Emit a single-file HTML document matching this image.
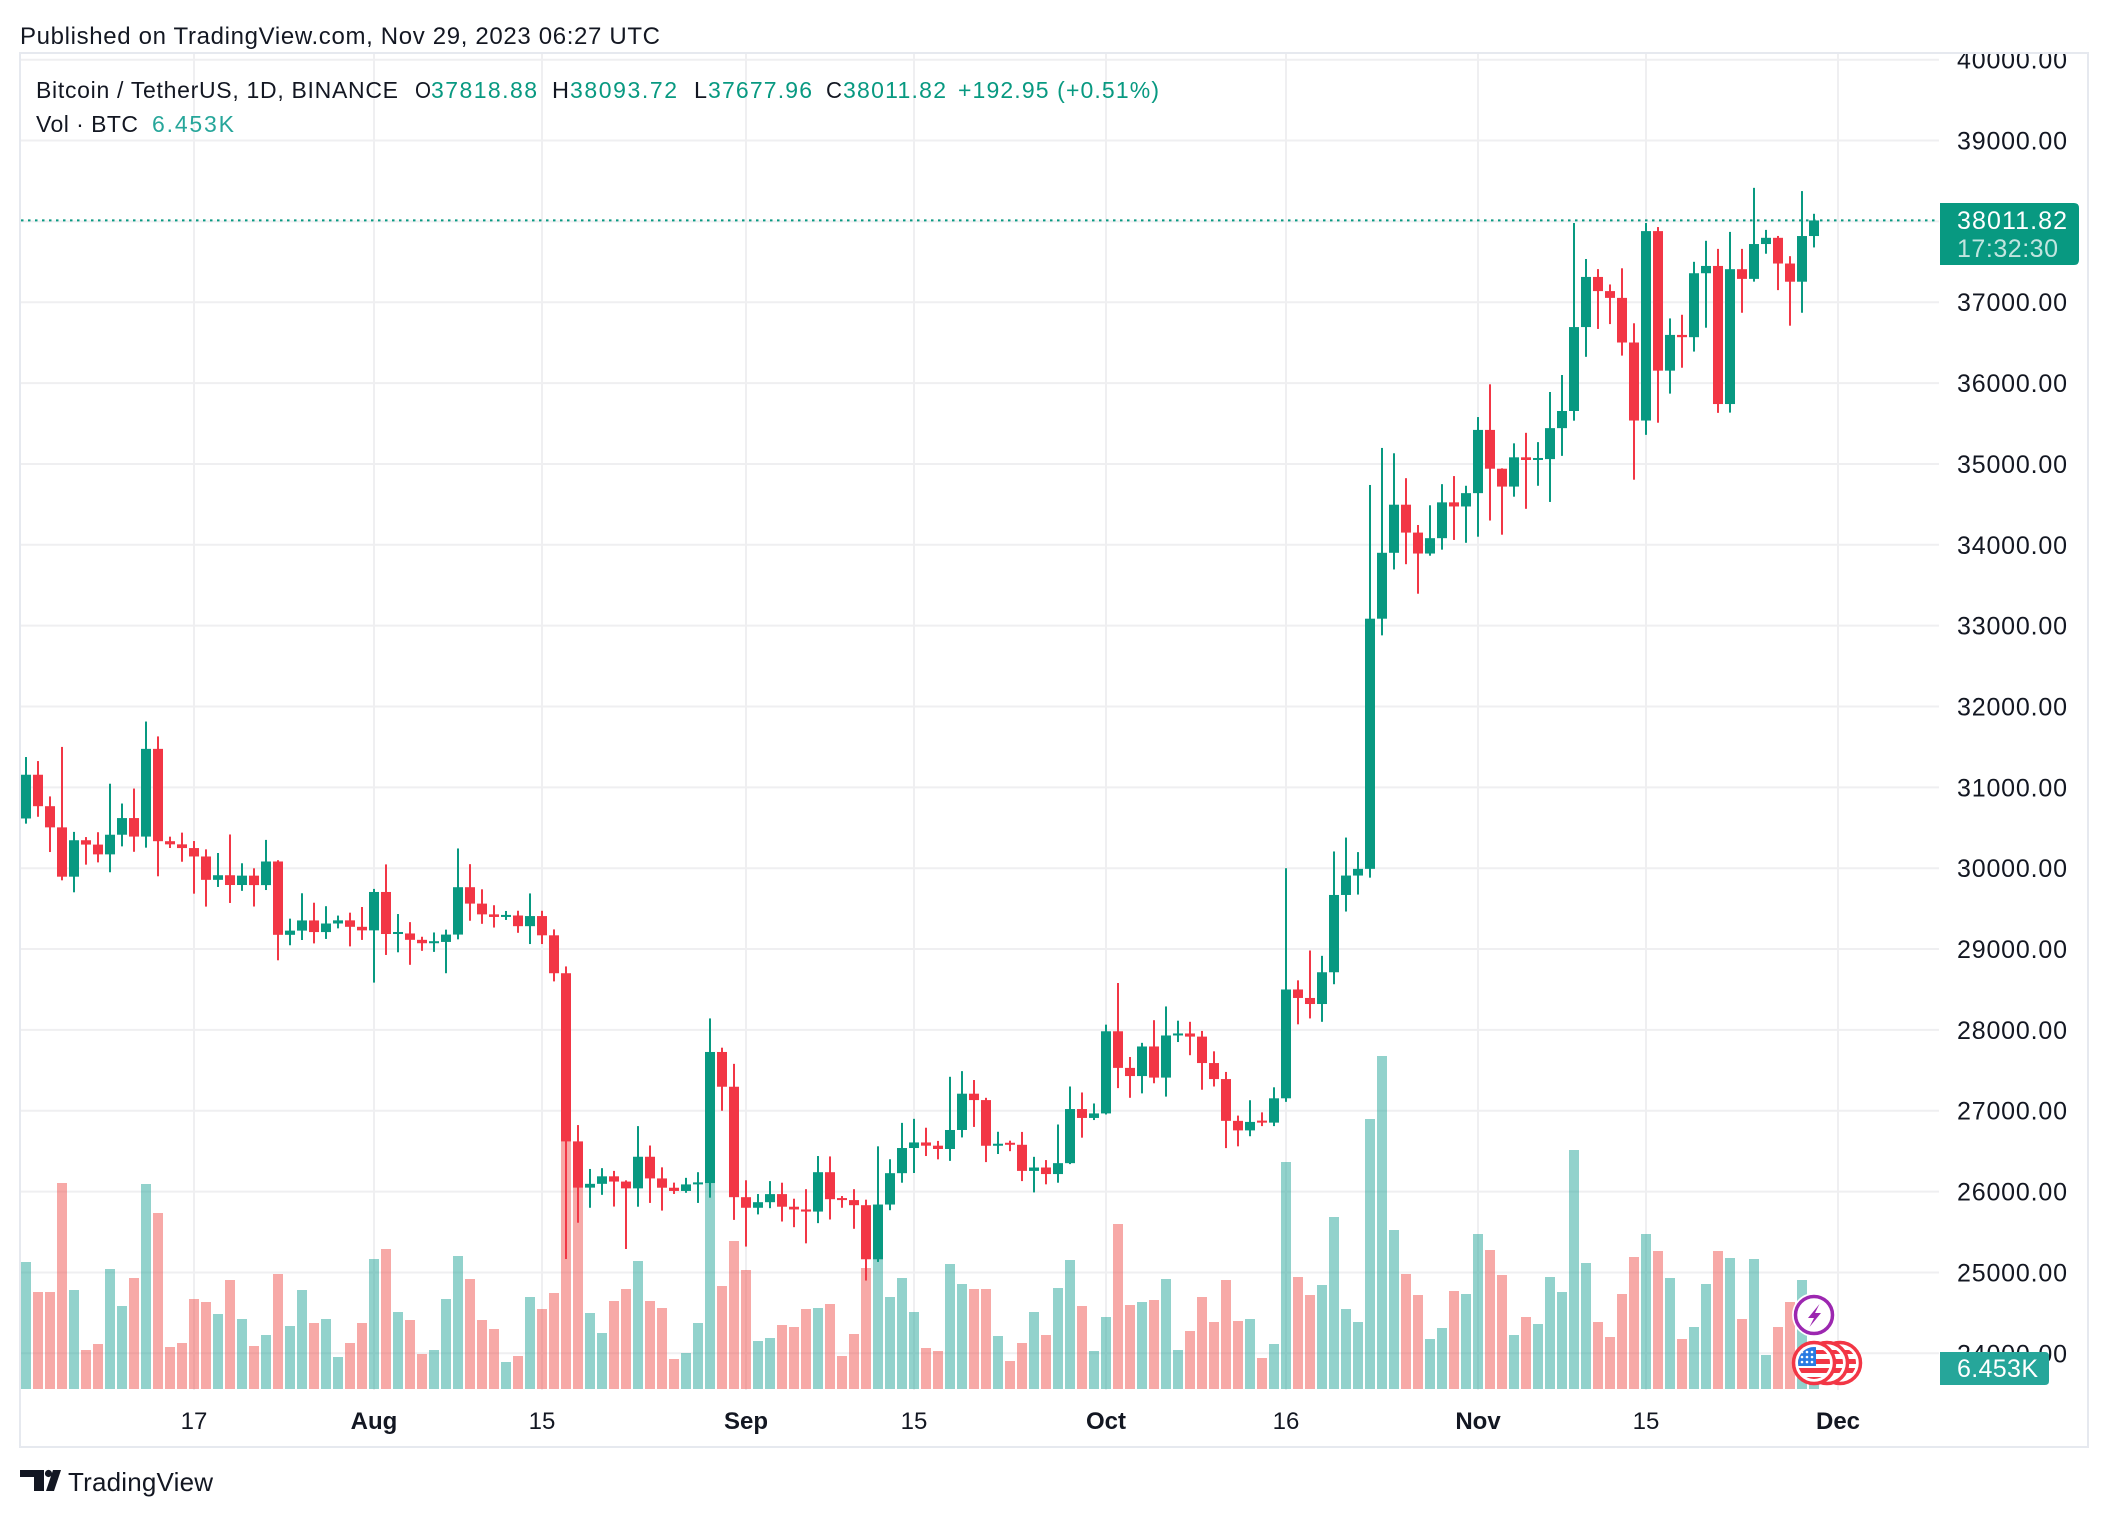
<!DOCTYPE html>
<html><head><meta charset="utf-8"><style>
html,body{margin:0;padding:0;background:#fff;}
svg{display:block;}
text{font-family:"Liberation Sans",Arial,sans-serif;}
</style></head><body>
<svg width="2108" height="1516" viewBox="0 0 2108 1516" xmlns="http://www.w3.org/2000/svg">
<defs>
<clipPath id="plot"><rect x="21" y="54" width="1918" height="1336"/></clipPath>
<clipPath id="axis"><rect x="1940" y="54" width="147" height="1340"/></clipPath>
<clipPath id="flag"><circle cx="1814" cy="1363" r="16"/></clipPath>
<clipPath id="flag2"><circle cx="1827" cy="1363" r="16"/></clipPath>
<clipPath id="flag3"><circle cx="1840" cy="1363" r="16"/></clipPath>
</defs>
<rect width="2108" height="1516" fill="#fff"/>
<text x="20" y="44" font-size="24" fill="#131722" textLength="640" lengthAdjust="spacing">Published on TradingView.com, Nov 29, 2023 06:27 UTC</text>

<!-- frame -->
<rect x="20" y="53" width="2068" height="1394" fill="none" stroke="#e6e9ef" stroke-width="2"/>

<!-- grid -->
<g stroke="#efeff1" stroke-width="2">
<line x1="21" x2="1939" y1="59.7" y2="59.7"/>
<line x1="21" x2="1939" y1="140.55" y2="140.55"/>
<line x1="21" x2="1939" y1="221.4" y2="221.4"/>
<line x1="21" x2="1939" y1="302.25" y2="302.25"/>
<line x1="21" x2="1939" y1="383.1" y2="383.1"/>
<line x1="21" x2="1939" y1="463.95" y2="463.95"/>
<line x1="21" x2="1939" y1="544.8" y2="544.8"/>
<line x1="21" x2="1939" y1="625.65" y2="625.65"/>
<line x1="21" x2="1939" y1="706.5" y2="706.5"/>
<line x1="21" x2="1939" y1="787.35" y2="787.35"/>
<line x1="21" x2="1939" y1="868.2" y2="868.2"/>
<line x1="21" x2="1939" y1="949.05" y2="949.05"/>
<line x1="21" x2="1939" y1="1029.9" y2="1029.9"/>
<line x1="21" x2="1939" y1="1110.75" y2="1110.75"/>
<line x1="21" x2="1939" y1="1191.6" y2="1191.6"/>
<line x1="21" x2="1939" y1="1272.45" y2="1272.45"/>
<line x1="21" x2="1939" y1="1353.3" y2="1353.3"/>
<line x1="194" x2="194" y1="54" y2="1390"/>
<line x1="374" x2="374" y1="54" y2="1390"/>
<line x1="542" x2="542" y1="54" y2="1390"/>
<line x1="746" x2="746" y1="54" y2="1390"/>
<line x1="914" x2="914" y1="54" y2="1390"/>
<line x1="1106" x2="1106" y1="54" y2="1390"/>
<line x1="1286" x2="1286" y1="54" y2="1390"/>
<line x1="1478" x2="1478" y1="54" y2="1390"/>
<line x1="1646" x2="1646" y1="54" y2="1390"/>
<line x1="1838" x2="1838" y1="54" y2="1390"/>
</g>

<g clip-path="url(#plot)">
<!-- volume green -->
<g fill="rgba(38,166,154,0.5)">
<rect x="21" y="1262" width="10" height="127"/>
<rect x="69" y="1290" width="10" height="99"/>
<rect x="105" y="1269" width="10" height="120"/>
<rect x="117" y="1306" width="10" height="83"/>
<rect x="141" y="1184" width="10" height="205"/>
<rect x="213" y="1314" width="10" height="75"/>
<rect x="237" y="1319" width="10" height="70"/>
<rect x="261" y="1335" width="10" height="54"/>
<rect x="285" y="1326" width="10" height="63"/>
<rect x="297" y="1290" width="10" height="99"/>
<rect x="321" y="1319" width="10" height="70"/>
<rect x="333" y="1357" width="10" height="32"/>
<rect x="369" y="1259" width="10" height="130"/>
<rect x="393" y="1312" width="10" height="77"/>
<rect x="429" y="1350" width="10" height="39"/>
<rect x="441" y="1299" width="10" height="90"/>
<rect x="453" y="1256" width="10" height="133"/>
<rect x="501" y="1362" width="10" height="27"/>
<rect x="525" y="1297" width="10" height="92"/>
<rect x="585" y="1313" width="10" height="76"/>
<rect x="597" y="1333" width="10" height="56"/>
<rect x="633" y="1261" width="10" height="128"/>
<rect x="681" y="1353" width="10" height="36"/>
<rect x="693" y="1323" width="10" height="66"/>
<rect x="705" y="1149" width="10" height="240"/>
<rect x="753" y="1341" width="10" height="48"/>
<rect x="765" y="1338" width="10" height="51"/>
<rect x="813" y="1308" width="10" height="81"/>
<rect x="873" y="1249" width="10" height="140"/>
<rect x="885" y="1297" width="10" height="92"/>
<rect x="897" y="1278" width="10" height="111"/>
<rect x="909" y="1312" width="10" height="77"/>
<rect x="945" y="1264" width="10" height="125"/>
<rect x="957" y="1284" width="10" height="105"/>
<rect x="993" y="1336" width="10" height="53"/>
<rect x="1029" y="1312" width="10" height="77"/>
<rect x="1053" y="1288" width="10" height="101"/>
<rect x="1065" y="1260" width="10" height="129"/>
<rect x="1089" y="1351" width="10" height="38"/>
<rect x="1101" y="1317" width="10" height="72"/>
<rect x="1137" y="1302" width="10" height="87"/>
<rect x="1161" y="1279" width="10" height="110"/>
<rect x="1173" y="1350" width="10" height="39"/>
<rect x="1245" y="1319" width="10" height="70"/>
<rect x="1269" y="1344" width="10" height="45"/>
<rect x="1281" y="1162" width="10" height="227"/>
<rect x="1317" y="1285" width="10" height="104"/>
<rect x="1329" y="1217" width="10" height="172"/>
<rect x="1341" y="1309" width="10" height="80"/>
<rect x="1353" y="1322" width="10" height="67"/>
<rect x="1365" y="1119" width="10" height="270"/>
<rect x="1377" y="1056" width="10" height="333"/>
<rect x="1389" y="1230" width="10" height="159"/>
<rect x="1425" y="1339" width="10" height="50"/>
<rect x="1437" y="1328" width="10" height="61"/>
<rect x="1461" y="1294" width="10" height="95"/>
<rect x="1473" y="1234" width="10" height="155"/>
<rect x="1509" y="1335" width="10" height="54"/>
<rect x="1533" y="1324" width="10" height="65"/>
<rect x="1545" y="1277" width="10" height="112"/>
<rect x="1557" y="1292" width="10" height="97"/>
<rect x="1569" y="1150" width="10" height="239"/>
<rect x="1581" y="1263" width="10" height="126"/>
<rect x="1641" y="1234" width="10" height="155"/>
<rect x="1665" y="1278" width="10" height="111"/>
<rect x="1689" y="1327" width="10" height="62"/>
<rect x="1701" y="1284" width="10" height="105"/>
<rect x="1725" y="1258" width="10" height="131"/>
<rect x="1749" y="1259" width="10" height="130"/>
<rect x="1761" y="1355" width="10" height="34"/>
<rect x="1797" y="1280" width="10" height="109"/>
<rect x="1809" y="1368" width="10" height="21"/>
</g>
<!-- volume red -->
<g fill="rgba(239,83,80,0.5)">
<rect x="33" y="1292" width="10" height="97"/>
<rect x="45" y="1292" width="10" height="97"/>
<rect x="57" y="1183" width="10" height="206"/>
<rect x="81" y="1350" width="10" height="39"/>
<rect x="93" y="1344" width="10" height="45"/>
<rect x="129" y="1278" width="10" height="111"/>
<rect x="153" y="1213" width="10" height="176"/>
<rect x="165" y="1347" width="10" height="42"/>
<rect x="177" y="1343" width="10" height="46"/>
<rect x="189" y="1299" width="10" height="90"/>
<rect x="201" y="1302" width="10" height="87"/>
<rect x="225" y="1280" width="10" height="109"/>
<rect x="249" y="1346" width="10" height="43"/>
<rect x="273" y="1274" width="10" height="115"/>
<rect x="309" y="1323" width="10" height="66"/>
<rect x="345" y="1343" width="10" height="46"/>
<rect x="357" y="1323" width="10" height="66"/>
<rect x="381" y="1249" width="10" height="140"/>
<rect x="405" y="1320" width="10" height="69"/>
<rect x="417" y="1354" width="10" height="35"/>
<rect x="465" y="1279" width="10" height="110"/>
<rect x="477" y="1320" width="10" height="69"/>
<rect x="489" y="1329" width="10" height="60"/>
<rect x="513" y="1356" width="10" height="33"/>
<rect x="537" y="1309" width="10" height="80"/>
<rect x="549" y="1293" width="10" height="96"/>
<rect x="561" y="1099" width="10" height="290"/>
<rect x="573" y="1159" width="10" height="230"/>
<rect x="609" y="1301" width="10" height="88"/>
<rect x="621" y="1289" width="10" height="100"/>
<rect x="645" y="1301" width="10" height="88"/>
<rect x="657" y="1308" width="10" height="81"/>
<rect x="669" y="1359" width="10" height="30"/>
<rect x="717" y="1286" width="10" height="103"/>
<rect x="729" y="1241" width="10" height="148"/>
<rect x="741" y="1270" width="10" height="119"/>
<rect x="777" y="1325" width="10" height="64"/>
<rect x="789" y="1327" width="10" height="62"/>
<rect x="801" y="1309" width="10" height="80"/>
<rect x="825" y="1304" width="10" height="85"/>
<rect x="837" y="1356" width="10" height="33"/>
<rect x="849" y="1334" width="10" height="55"/>
<rect x="861" y="1268" width="10" height="121"/>
<rect x="921" y="1348" width="10" height="41"/>
<rect x="933" y="1351" width="10" height="38"/>
<rect x="969" y="1289" width="10" height="100"/>
<rect x="981" y="1289" width="10" height="100"/>
<rect x="1005" y="1361" width="10" height="28"/>
<rect x="1017" y="1343" width="10" height="46"/>
<rect x="1041" y="1335" width="10" height="54"/>
<rect x="1077" y="1306" width="10" height="83"/>
<rect x="1113" y="1224" width="10" height="165"/>
<rect x="1125" y="1305" width="10" height="84"/>
<rect x="1149" y="1300" width="10" height="89"/>
<rect x="1185" y="1331" width="10" height="58"/>
<rect x="1197" y="1297" width="10" height="92"/>
<rect x="1209" y="1322" width="10" height="67"/>
<rect x="1221" y="1280" width="10" height="109"/>
<rect x="1233" y="1321" width="10" height="68"/>
<rect x="1257" y="1358" width="10" height="31"/>
<rect x="1293" y="1277" width="10" height="112"/>
<rect x="1305" y="1295" width="10" height="94"/>
<rect x="1401" y="1274" width="10" height="115"/>
<rect x="1413" y="1295" width="10" height="94"/>
<rect x="1449" y="1291" width="10" height="98"/>
<rect x="1485" y="1250" width="10" height="139"/>
<rect x="1497" y="1275" width="10" height="114"/>
<rect x="1521" y="1317" width="10" height="72"/>
<rect x="1593" y="1322" width="10" height="67"/>
<rect x="1605" y="1337" width="10" height="52"/>
<rect x="1617" y="1294" width="10" height="95"/>
<rect x="1629" y="1257" width="10" height="132"/>
<rect x="1653" y="1251" width="10" height="138"/>
<rect x="1677" y="1339" width="10" height="50"/>
<rect x="1713" y="1251" width="10" height="138"/>
<rect x="1737" y="1319" width="10" height="70"/>
<rect x="1773" y="1327" width="10" height="62"/>
<rect x="1785" y="1302" width="10" height="87"/>
</g>

<!-- candles in price coordinates: pixel y = 3293.7 - 0.08085*price -->
<g transform="matrix(1 0 0 -0.08085 0 3293.7)">
<g fill="#089981">
<rect x="21" y="30615" width="10" height="541"/><rect x="25" y="30551" width="2" height="824"/>
<rect x="69" y="29895" width="10" height="451"/><rect x="73" y="29702" width="2" height="747"/>
<rect x="105" y="30171" width="10" height="243"/><rect x="109" y="29950" width="2" height="1095"/>
<rect x="117" y="30414" width="10" height="206"/><rect x="121" y="30270" width="2" height="530"/>
<rect x="141" y="30391" width="10" height="1085"/><rect x="145" y="30254" width="2" height="1560"/>
<rect x="213" y="29856" width="10" height="57"/><rect x="217" y="29768" width="2" height="420"/>
<rect x="237" y="29792" width="10" height="116"/><rect x="241" y="29720" width="2" height="341"/>
<rect x="261" y="29791" width="10" height="292"/><rect x="265" y="29730" width="2" height="620"/>
<rect x="285" y="29176" width="10" height="52"/><rect x="289" y="29047" width="2" height="329"/>
<rect x="297" y="29228" width="10" height="126"/><rect x="301" y="29112" width="2" height="578"/>
<rect x="321" y="29210" width="10" height="106"/><rect x="325" y="29125" width="2" height="405"/>
<rect x="333" y="29316" width="10" height="39"/><rect x="337" y="29256" width="2" height="158"/>
<rect x="369" y="29231" width="10" height="475"/><rect x="373" y="28585" width="2" height="1159"/>
<rect x="393" y="29186" width="10" height="25"/><rect x="397" y="28960" width="2" height="473"/>
<rect x="429" y="29072" width="10" height="25"/><rect x="433" y="28965" width="2" height="240"/>
<rect x="441" y="29088" width="10" height="91"/><rect x="445" y="28701" width="2" height="539"/>
<rect x="453" y="29179" width="10" height="586"/><rect x="457" y="29120" width="2" height="1124"/>
<rect x="501" y="29397" width="10" height="25"/><rect x="505" y="29360" width="2" height="111"/>
<rect x="525" y="29283" width="10" height="125"/><rect x="529" y="29062" width="2" height="626"/>
<rect x="585" y="26049" width="10" height="47"/><rect x="589" y="25800" width="2" height="480"/>
<rect x="597" y="26096" width="10" height="93"/><rect x="601" y="25960" width="2" height="330"/>
<rect x="633" y="26040" width="10" height="391"/><rect x="637" y="25813" width="2" height="997"/>
<rect x="681" y="26008" width="10" height="81"/><rect x="685" y="25985" width="2" height="185"/>
<rect x="693" y="26089" width="10" height="25"/><rect x="697" y="25860" width="2" height="380"/>
<rect x="705" y="26106" width="10" height="1621"/><rect x="709" y="25925" width="2" height="2217"/>
<rect x="753" y="25800" width="10" height="69"/><rect x="757" y="25718" width="2" height="252"/>
<rect x="765" y="25869" width="10" height="100"/><rect x="769" y="25795" width="2" height="335"/>
<rect x="813" y="25753" width="10" height="487"/><rect x="817" y="25610" width="2" height="830"/>
<rect x="873" y="25163" width="10" height="677"/><rect x="877" y="25130" width="2" height="1430"/>
<rect x="885" y="25840" width="10" height="388"/><rect x="889" y="25770" width="2" height="630"/>
<rect x="897" y="26228" width="10" height="311"/><rect x="901" y="26110" width="2" height="740"/>
<rect x="909" y="26539" width="10" height="69"/><rect x="913" y="26230" width="2" height="670"/>
<rect x="945" y="26527" width="10" height="235"/><rect x="949" y="26380" width="2" height="1040"/>
<rect x="957" y="26762" width="10" height="449"/><rect x="961" y="26670" width="2" height="820"/>
<rect x="993" y="26567" width="10" height="25"/><rect x="997" y="26465" width="2" height="275"/>
<rect x="1029" y="26256" width="10" height="42"/><rect x="1033" y="25990" width="2" height="440"/>
<rect x="1053" y="26217" width="10" height="135"/><rect x="1057" y="26110" width="2" height="720"/>
<rect x="1065" y="26352" width="10" height="669"/><rect x="1069" y="26340" width="2" height="960"/>
<rect x="1089" y="26911" width="10" height="56"/><rect x="1093" y="26885" width="2" height="205"/>
<rect x="1101" y="26967" width="10" height="1016"/><rect x="1105" y="26954" width="2" height="1111"/>
<rect x="1137" y="27429" width="10" height="366"/><rect x="1141" y="27215" width="2" height="625"/>
<rect x="1161" y="27410" width="10" height="521"/><rect x="1165" y="27175" width="2" height="1115"/>
<rect x="1173" y="27931" width="10" height="25"/><rect x="1177" y="27850" width="2" height="264"/>
<rect x="1245" y="26757" width="10" height="105"/><rect x="1249" y="26685" width="2" height="445"/>
<rect x="1269" y="26853" width="10" height="301"/><rect x="1273" y="26810" width="2" height="480"/>
<rect x="1281" y="27154" width="10" height="1346"/><rect x="1285" y="27110" width="2" height="2890"/>
<rect x="1317" y="28320" width="10" height="393"/><rect x="1321" y="28100" width="2" height="816"/>
<rect x="1329" y="28713" width="10" height="956"/><rect x="1333" y="28565" width="2" height="1642"/>
<rect x="1341" y="29669" width="10" height="240"/><rect x="1345" y="29464" width="2" height="915"/>
<rect x="1353" y="29909" width="10" height="83"/><rect x="1357" y="29674" width="2" height="525"/>
<rect x="1365" y="29992" width="10" height="3094"/><rect x="1369" y="29883" width="2" height="4857"/>
<rect x="1377" y="33086" width="10" height="815"/><rect x="1381" y="32880" width="2" height="2318"/>
<rect x="1389" y="33901" width="10" height="595"/><rect x="1393" y="33695" width="2" height="1437"/>
<rect x="1425" y="33892" width="10" height="190"/><rect x="1429" y="33865" width="2" height="624"/>
<rect x="1437" y="34082" width="10" height="443"/><rect x="1441" y="33940" width="2" height="810"/>
<rect x="1461" y="34474" width="10" height="165"/><rect x="1465" y="34025" width="2" height="705"/>
<rect x="1473" y="34639" width="10" height="782"/><rect x="1477" y="34100" width="2" height="1480"/>
<rect x="1509" y="34720" width="10" height="362"/><rect x="1513" y="34595" width="2" height="660"/>
<rect x="1533" y="35049" width="10" height="25"/><rect x="1537" y="34730" width="2" height="540"/>
<rect x="1545" y="35060" width="10" height="383"/><rect x="1549" y="34530" width="2" height="1360"/>
<rect x="1557" y="35443" width="10" height="212"/><rect x="1561" y="35100" width="2" height="1000"/>
<rect x="1569" y="35655" width="10" height="1038"/><rect x="1573" y="35535" width="2" height="2445"/>
<rect x="1581" y="36693" width="10" height="620"/><rect x="1585" y="36325" width="2" height="1210"/>
<rect x="1641" y="35537" width="10" height="2343"/><rect x="1645" y="35360" width="2" height="2620"/>
<rect x="1665" y="36154" width="10" height="442"/><rect x="1669" y="35870" width="2" height="930"/>
<rect x="1689" y="36568" width="10" height="791"/><rect x="1693" y="36390" width="2" height="1110"/>
<rect x="1701" y="37359" width="10" height="90"/><rect x="1705" y="36685" width="2" height="1075"/>
<rect x="1725" y="35741" width="10" height="1668"/><rect x="1729" y="35635" width="2" height="2235"/>
<rect x="1749" y="37289" width="10" height="431"/><rect x="1753" y="37255" width="2" height="1160"/>
<rect x="1761" y="37720" width="10" height="77"/><rect x="1765" y="37600" width="2" height="295"/>
<rect x="1797" y="37254" width="10" height="565"/><rect x="1801" y="36870" width="2" height="1505"/>
<rect x="1809" y="37819" width="10" height="193"/><rect x="1813" y="37678" width="2" height="416"/>
</g>
<g fill="#f23645">
<rect x="33" y="30767" width="10" height="389"/><rect x="37" y="30636" width="2" height="689"/>
<rect x="45" y="30505" width="10" height="262"/><rect x="49" y="30200" width="2" height="688"/>
<rect x="57" y="29895" width="10" height="610"/><rect x="61" y="29850" width="2" height="1650"/>
<rect x="81" y="30292" width="10" height="54"/><rect x="85" y="30044" width="2" height="341"/>
<rect x="93" y="30171" width="10" height="121"/><rect x="97" y="30072" width="2" height="373"/>
<rect x="129" y="30391" width="10" height="229"/><rect x="133" y="30203" width="2" height="782"/>
<rect x="153" y="30334" width="10" height="1142"/><rect x="157" y="29900" width="2" height="1730"/>
<rect x="165" y="30295" width="10" height="39"/><rect x="169" y="30250" width="2" height="140"/>
<rect x="177" y="30249" width="10" height="46"/><rect x="181" y="30080" width="2" height="360"/>
<rect x="189" y="30145" width="10" height="104"/><rect x="193" y="29685" width="2" height="651"/>
<rect x="201" y="29856" width="10" height="289"/><rect x="205" y="29525" width="2" height="708"/>
<rect x="225" y="29792" width="10" height="121"/><rect x="229" y="29570" width="2" height="847"/>
<rect x="249" y="29791" width="10" height="117"/><rect x="253" y="29526" width="2" height="473"/>
<rect x="273" y="29176" width="10" height="907"/><rect x="277" y="28861" width="2" height="1238"/>
<rect x="309" y="29210" width="10" height="144"/><rect x="313" y="29070" width="2" height="503"/>
<rect x="345" y="29275" width="10" height="80"/><rect x="349" y="29033" width="2" height="417"/>
<rect x="357" y="29231" width="10" height="44"/><rect x="361" y="29113" width="2" height="407"/>
<rect x="381" y="29186" width="10" height="520"/><rect x="385" y="28927" width="2" height="1120"/>
<rect x="405" y="29114" width="10" height="79"/><rect x="409" y="28805" width="2" height="528"/>
<rect x="417" y="29072" width="10" height="42"/><rect x="421" y="28978" width="2" height="174"/>
<rect x="465" y="29562" width="10" height="203"/><rect x="469" y="29350" width="2" height="700"/>
<rect x="477" y="29429" width="10" height="133"/><rect x="481" y="29312" width="2" height="427"/>
<rect x="489" y="29397" width="10" height="32"/><rect x="493" y="29266" width="2" height="276"/>
<rect x="513" y="29283" width="10" height="132"/><rect x="517" y="29201" width="2" height="273"/>
<rect x="537" y="29170" width="10" height="238"/><rect x="541" y="29062" width="2" height="411"/>
<rect x="549" y="28701" width="10" height="469"/><rect x="553" y="28600" width="2" height="643"/>
<rect x="561" y="26621" width="10" height="2080"/><rect x="565" y="25166" width="2" height="3619"/>
<rect x="573" y="26049" width="10" height="572"/><rect x="577" y="25615" width="2" height="1208"/>
<rect x="609" y="26124" width="10" height="65"/><rect x="613" y="25815" width="2" height="441"/>
<rect x="621" y="26040" width="10" height="84"/><rect x="625" y="25290" width="2" height="849"/>
<rect x="645" y="26163" width="10" height="268"/><rect x="649" y="25860" width="2" height="710"/>
<rect x="657" y="26048" width="10" height="115"/><rect x="661" y="25765" width="2" height="535"/>
<rect x="669" y="26008" width="10" height="40"/><rect x="673" y="25971" width="2" height="140"/>
<rect x="717" y="27297" width="10" height="430"/><rect x="721" y="27000" width="2" height="780"/>
<rect x="729" y="25931" width="10" height="1366"/><rect x="733" y="25650" width="2" height="1930"/>
<rect x="741" y="25800" width="10" height="131"/><rect x="745" y="25320" width="2" height="820"/>
<rect x="777" y="25813" width="10" height="156"/><rect x="781" y="25630" width="2" height="480"/>
<rect x="789" y="25779" width="10" height="34"/><rect x="793" y="25560" width="2" height="352"/>
<rect x="801" y="25753" width="10" height="26"/><rect x="805" y="25360" width="2" height="670"/>
<rect x="825" y="25906" width="10" height="334"/><rect x="829" y="25655" width="2" height="780"/>
<rect x="837" y="25895" width="10" height="25"/><rect x="841" y="25800" width="2" height="145"/>
<rect x="849" y="25832" width="10" height="63"/><rect x="853" y="25540" width="2" height="490"/>
<rect x="861" y="25163" width="10" height="669"/><rect x="865" y="24900" width="2" height="1000"/>
<rect x="921" y="26568" width="10" height="40"/><rect x="925" y="26440" width="2" height="350"/>
<rect x="933" y="26527" width="10" height="41"/><rect x="937" y="26399" width="2" height="228"/>
<rect x="969" y="27132" width="10" height="79"/><rect x="973" y="26800" width="2" height="580"/>
<rect x="981" y="26567" width="10" height="565"/><rect x="985" y="26365" width="2" height="795"/>
<rect x="1005" y="26579" width="10" height="25"/><rect x="1009" y="26500" width="2" height="130"/>
<rect x="1017" y="26256" width="10" height="323"/><rect x="1021" y="26130" width="2" height="608"/>
<rect x="1041" y="26217" width="10" height="81"/><rect x="1045" y="26090" width="2" height="300"/>
<rect x="1077" y="26911" width="10" height="110"/><rect x="1081" y="26667" width="2" height="559"/>
<rect x="1113" y="27530" width="10" height="453"/><rect x="1117" y="27280" width="2" height="1300"/>
<rect x="1125" y="27429" width="10" height="101"/><rect x="1129" y="27160" width="2" height="505"/>
<rect x="1149" y="27410" width="10" height="385"/><rect x="1153" y="27340" width="2" height="780"/>
<rect x="1185" y="27917" width="10" height="39"/><rect x="1189" y="27687" width="2" height="413"/>
<rect x="1197" y="27590" width="10" height="327"/><rect x="1201" y="27260" width="2" height="727"/>
<rect x="1209" y="27392" width="10" height="198"/><rect x="1213" y="27300" width="2" height="435"/>
<rect x="1221" y="26875" width="10" height="517"/><rect x="1225" y="26538" width="2" height="942"/>
<rect x="1233" y="26757" width="10" height="118"/><rect x="1237" y="26560" width="2" height="380"/>
<rect x="1257" y="26853" width="10" height="25"/><rect x="1261" y="26810" width="2" height="170"/>
<rect x="1293" y="28395" width="10" height="105"/><rect x="1297" y="28069" width="2" height="544"/>
<rect x="1305" y="28320" width="10" height="75"/><rect x="1309" y="28142" width="2" height="840"/>
<rect x="1401" y="34151" width="10" height="345"/><rect x="1405" y="33760" width="2" height="1064"/>
<rect x="1413" y="33892" width="10" height="259"/><rect x="1417" y="33395" width="2" height="850"/>
<rect x="1449" y="34474" width="10" height="51"/><rect x="1453" y="34060" width="2" height="790"/>
<rect x="1485" y="34941" width="10" height="480"/><rect x="1489" y="34300" width="2" height="1685"/>
<rect x="1497" y="34720" width="10" height="221"/><rect x="1501" y="34125" width="2" height="821"/>
<rect x="1521" y="35049" width="10" height="33"/><rect x="1525" y="34445" width="2" height="940"/>
<rect x="1593" y="37138" width="10" height="175"/><rect x="1597" y="36670" width="2" height="740"/>
<rect x="1605" y="37054" width="10" height="84"/><rect x="1609" y="36730" width="2" height="490"/>
<rect x="1617" y="36502" width="10" height="552"/><rect x="1621" y="36340" width="2" height="1080"/>
<rect x="1629" y="35537" width="10" height="965"/><rect x="1633" y="34805" width="2" height="1935"/>
<rect x="1653" y="36154" width="10" height="1726"/><rect x="1657" y="35510" width="2" height="2420"/>
<rect x="1677" y="36568" width="10" height="28"/><rect x="1681" y="36190" width="2" height="655"/>
<rect x="1713" y="35741" width="10" height="1708"/><rect x="1717" y="35632" width="2" height="2028"/>
<rect x="1737" y="37289" width="10" height="120"/><rect x="1741" y="36870" width="2" height="790"/>
<rect x="1773" y="37479" width="10" height="318"/><rect x="1777" y="37150" width="2" height="670"/>
<rect x="1785" y="37254" width="10" height="225"/><rect x="1789" y="36710" width="2" height="860"/>
</g>
</g>

<!-- last price dotted line -->
<line x1="21" x2="1939" y1="220.4" y2="220.4" stroke="#089981" stroke-width="2" stroke-dasharray="2.5 4.5"/>

<!-- event icons -->
<circle cx="1814" cy="1315" r="22" fill="#fff"/>
<circle cx="1814" cy="1315" r="18.5" fill="#fff" stroke="#9c27b0" stroke-width="3.5"/>
<path d="M1819.5,1304 L1808,1318 L1814,1318 L1809.5,1327 L1821,1313 L1815,1313 Z" fill="#9c27b0"/>

<circle cx="1840" cy="1363" r="20.5" fill="#fff" stroke="#f23645" stroke-width="3.5"/>
<g clip-path="url(#flag3)"><rect x="1820" y="1359" width="40" height="5" fill="#f23645"/><rect x="1820" y="1368" width="40" height="5" fill="#f23645"/><rect x="1820" y="1350" width="40" height="4" fill="#f23645"/></g>
<circle cx="1827" cy="1363" r="20.5" fill="#fff" stroke="#f23645" stroke-width="3.5"/>
<g clip-path="url(#flag2)"><rect x="1807" y="1359" width="40" height="5" fill="#f23645"/><rect x="1807" y="1368" width="40" height="5" fill="#f23645"/><rect x="1807" y="1350" width="40" height="4" fill="#f23645"/></g>
<circle cx="1814" cy="1363" r="20.5" fill="#fff" stroke="#f23645" stroke-width="3.5"/>
<g clip-path="url(#flag)">
<rect x="1794" y="1350" width="40" height="4" fill="#f23645"/>
<rect x="1794" y="1359" width="40" height="5" fill="#f23645"/>
<rect x="1794" y="1368" width="40" height="5" fill="#f23645"/>
<rect x="1794" y="1377" width="40" height="5" fill="#f23645"/>
<rect x="1797" y="1347" width="19" height="19" fill="#2a7ae2"/>
<g fill="#fff"><circle cx="1802" cy="1352" r="1.3"/><circle cx="1807" cy="1352" r="1.3"/><circle cx="1812" cy="1352" r="1.3"/><circle cx="1802" cy="1357" r="1.3"/><circle cx="1807" cy="1357" r="1.3"/><circle cx="1812" cy="1357" r="1.3"/><circle cx="1802" cy="1362" r="1.3"/><circle cx="1807" cy="1362" r="1.3"/><circle cx="1812" cy="1362" r="1.3"/></g>
</g>
</g>

<!-- price axis labels -->
<g clip-path="url(#axis)" font-size="25" fill="#131722">
<text x="1957" y="68.7" textLength="110" lengthAdjust="spacing">40000.00</text>
<text x="1957" y="149.5" textLength="110" lengthAdjust="spacing">39000.00</text>
<text x="1957" y="230.4" textLength="110" lengthAdjust="spacing">38000.00</text>
<text x="1957" y="311.2" textLength="110" lengthAdjust="spacing">37000.00</text>
<text x="1957" y="392" textLength="110" lengthAdjust="spacing">36000.00</text>
<text x="1957" y="473" textLength="110" lengthAdjust="spacing">35000.00</text>
<text x="1957" y="553.8" textLength="110" lengthAdjust="spacing">34000.00</text>
<text x="1957" y="634.6" textLength="110" lengthAdjust="spacing">33000.00</text>
<text x="1957" y="715.5" textLength="110" lengthAdjust="spacing">32000.00</text>
<text x="1957" y="796.3" textLength="110" lengthAdjust="spacing">31000.00</text>
<text x="1957" y="877.2" textLength="110" lengthAdjust="spacing">30000.00</text>
<text x="1957" y="958" textLength="110" lengthAdjust="spacing">29000.00</text>
<text x="1957" y="1038.9" textLength="110" lengthAdjust="spacing">28000.00</text>
<text x="1957" y="1119.7" textLength="110" lengthAdjust="spacing">27000.00</text>
<text x="1957" y="1200.6" textLength="110" lengthAdjust="spacing">26000.00</text>
<text x="1957" y="1281.4" textLength="110" lengthAdjust="spacing">25000.00</text>
<text x="1957" y="1362.3" textLength="110" lengthAdjust="spacing">24000.00</text>
</g>

<!-- last price label -->
<path d="M1940,203 H2074 Q2079,203 2079,208 V260 Q2079,265 2074,265 H1940 Z" fill="#089981"/>
<text x="1957" y="229" font-size="25" fill="#fff" textLength="110" lengthAdjust="spacing">38011.82</text>
<text x="1957" y="257" font-size="25" fill="rgba(255,255,255,0.75)" textLength="101" lengthAdjust="spacing">17:32:30</text>

<!-- volume label -->
<path d="M1940,1352 H2045 Q2049,1352 2049,1356 V1381 Q2049,1385 2045,1385 H1940 Z" fill="#26a69a"/>
<text x="1957" y="1377" font-size="25" fill="#fff" textLength="81" lengthAdjust="spacing">6.453K</text>

<!-- time axis -->
<g font-size="24" fill="#131722" text-anchor="middle">
<text x="194" y="1429">17</text>
<text x="374" y="1429" font-weight="bold">Aug</text>
<text x="542" y="1429">15</text>
<text x="746" y="1429" font-weight="bold">Sep</text>
<text x="914" y="1429">15</text>
<text x="1106" y="1429" font-weight="bold">Oct</text>
<text x="1286" y="1429">16</text>
<text x="1478" y="1429" font-weight="bold">Nov</text>
<text x="1646" y="1429">15</text>
<text x="1838" y="1429" font-weight="bold">Dec</text>
</g>

<!-- legend -->
<g font-size="23">
<text x="36" y="98" fill="#131722" textLength="362" lengthAdjust="spacing">Bitcoin / TetherUS, 1D, BINANCE</text>
<text x="415" y="98" fill="#131722" textLength="16" lengthAdjust="spacingAndGlyphs">O</text>
<text x="431" y="98" fill="#089981" textLength="106" lengthAdjust="spacing">37818.88</text>
<text x="552" y="98" fill="#131722" textLength="17" lengthAdjust="spacingAndGlyphs">H</text>
<text x="570" y="98" fill="#089981" textLength="107" lengthAdjust="spacing">38093.72</text>
<text x="694" y="98" fill="#131722" textLength="13" lengthAdjust="spacingAndGlyphs">L</text>
<text x="708" y="98" fill="#089981" textLength="104" lengthAdjust="spacing">37677.96</text>
<text x="826" y="98" fill="#131722" textLength="16" lengthAdjust="spacingAndGlyphs">C</text>
<text x="843" y="98" fill="#089981" textLength="103" lengthAdjust="spacing">38011.82</text>
<text x="958" y="98" fill="#089981" textLength="201" lengthAdjust="spacing">+192.95 (+0.51%)</text>
<text x="36" y="132" fill="#131722" textLength="102" lengthAdjust="spacing">Vol · BTC</text>
<text x="152" y="132" fill="#26a69a" textLength="82" lengthAdjust="spacing">6.453K</text>
</g>

<!-- TradingView logo -->
<g fill="#131722">
<rect x="20" y="1470" width="24" height="7"/>
<rect x="34" y="1470" width="10" height="21"/>
<circle cx="48.5" cy="1473.5" r="3.6"/>
<polygon points="46,1491 54,1491 61,1470 53,1470"/>
</g>
<text x="68" y="1491" font-size="26" fill="#131722" textLength="145" lengthAdjust="spacing">TradingView</text>
</svg>
</body></html>
